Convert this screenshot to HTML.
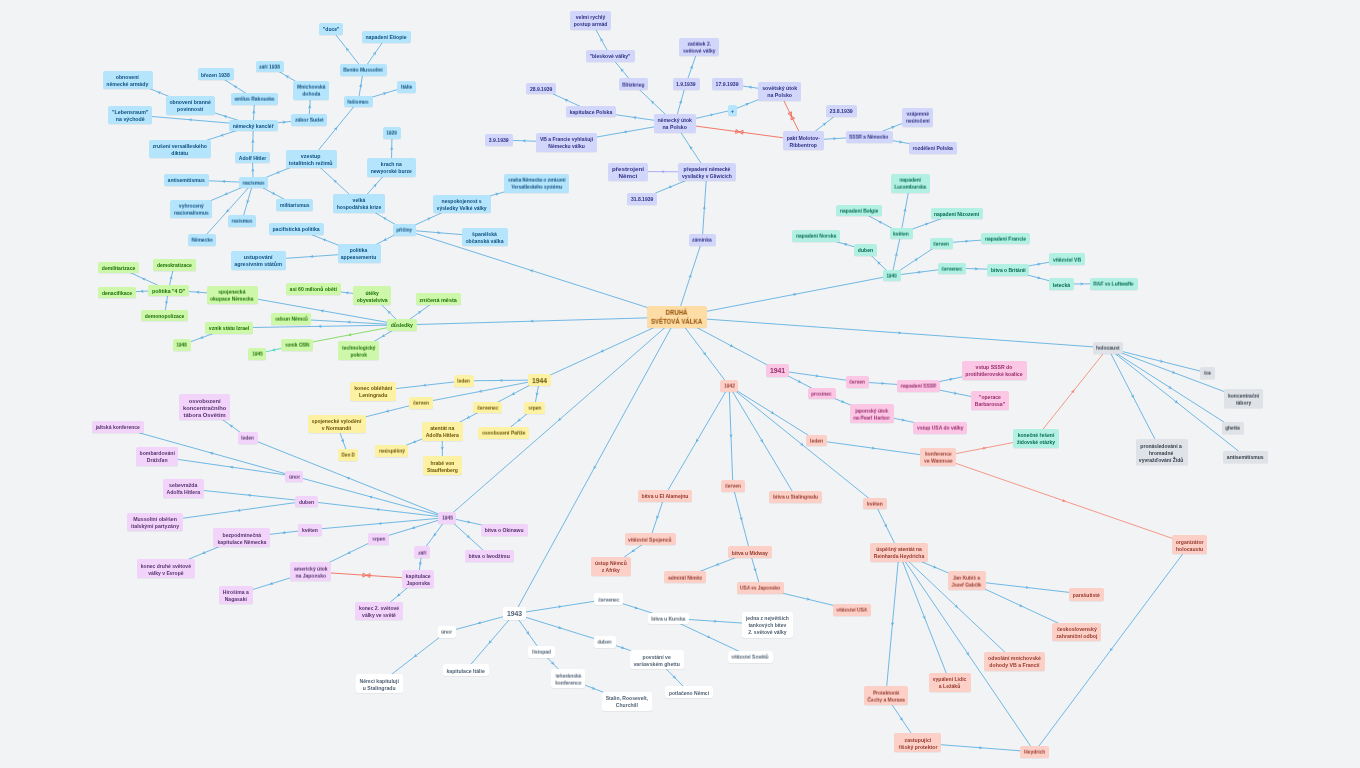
<!DOCTYPE html>
<html><head><meta charset="utf-8"><style>
html,body{margin:0;padding:0;width:1360px;height:768px;overflow:hidden;background:#f1f3f5}
svg{position:absolute;left:0;top:0}
.n{position:absolute;box-sizing:border-box;border-radius:2.2px;display:flex;align-items:center;justify-content:center;text-align:center;font-family:"Liberation Sans",sans-serif;font-weight:bold;font-size:5px;line-height:6.9px;white-space:nowrap;box-shadow:0 0.6px 0.6px rgba(60,70,90,0.12)}
.n span{display:block;will-change:transform}
.big{font-size:6.8px}
.c{font-size:6.5px;line-height:8.8px;border-radius:3px}
.c span{transform:translateY(0.8px) scaleX(0.93)}
.b{background:#b4e5fd;color:#104f7e}
.g{background:#cdf8a9;color:#1c7006}
.l{background:#d3d6fb;color:#2e3282}
.t{background:#b1f0e3;color:#056b50}
.k{background:#dfe2e6;color:#333d4a}
.p{background:#fcc6e5;color:#962e6b}
.s{background:#fdd0c7;color:#953a2e}
.w{background:#ffffff;color:#4f6173}
.y{background:#fdf1a3;color:#6b5608}
.u{background:#f2d4fb;color:#58336e}
.c{background:#fddca5;color:#945008}
</style></head><body>
<svg width="1360" height="768" viewBox="0 0 1360 768" stroke-width="0.9">
<line x1="677.00" y1="317.00" x2="404.50" y2="229.88" stroke="#62b1e1"/>
<polygon points="529.74,269.92 533.69,269.39 532.22,270.71 532.65,272.63" fill="#62b1e1"/>
<line x1="677.00" y1="317.00" x2="401.90" y2="324.95" stroke="#62b1e1"/>
<polygon points="530.05,321.25 533.60,319.44 532.65,321.17 533.70,322.84" fill="#62b1e1"/>
<line x1="677.00" y1="317.00" x2="702.25" y2="239.88" stroke="#62b1e1"/>
<polygon points="691.02,274.17 691.52,278.12 690.21,276.64 688.29,277.06" fill="#62b1e1"/>
<line x1="677.00" y1="317.00" x2="891.88" y2="275.62" stroke="#62b1e1"/>
<polygon points="796.82,293.93 793.60,296.28 794.26,294.42 792.96,292.94" fill="#62b1e1"/>
<line x1="677.00" y1="317.00" x2="1107.88" y2="347.88" stroke="#62b1e1"/>
<polygon points="901.60,333.09 897.88,334.53 899.00,332.91 898.13,331.14" fill="#62b1e1"/>
<line x1="677.00" y1="317.00" x2="777.38" y2="370.38" stroke="#62b1e1"/>
<polygon points="733.33,346.96 729.36,346.77 731.04,345.73 730.95,343.76" fill="#62b1e1"/>
<line x1="677.00" y1="317.00" x2="729.12" y2="385.88" stroke="#62b1e1"/>
<polygon points="706.07,355.42 702.54,353.57 704.50,353.34 705.26,351.52" fill="#62b1e1"/>
<line x1="677.00" y1="317.00" x2="514.38" y2="613.75" stroke="#62b1e1"/>
<polygon points="593.60,469.19 593.84,465.22 594.85,466.91 596.82,466.85" fill="#62b1e1"/>
<line x1="677.00" y1="317.00" x2="539.50" y2="380.00" stroke="#62b1e1"/>
<polygon points="600.36,352.11 602.93,349.07 602.73,351.03 604.34,352.16" fill="#62b1e1"/>
<line x1="677.00" y1="317.00" x2="447.35" y2="517.55" stroke="#62b1e1"/>
<polygon points="558.02,420.90 559.62,417.25 559.98,419.19 561.85,419.81" fill="#62b1e1"/>
<line x1="404.50" y1="229.88" x2="461.75" y2="203.50" stroke="#62b1e1"/>
<polygon points="430.83,217.74 428.27,220.79 428.47,218.83 426.85,217.71" fill="#62b1e1"/>
<line x1="404.50" y1="229.88" x2="484.75" y2="236.50" stroke="#62b1e1"/>
<polygon points="440.89,232.88 437.17,234.28 438.30,232.67 437.45,230.89" fill="#62b1e1"/>
<line x1="404.50" y1="229.88" x2="359.00" y2="253.25" stroke="#62b1e1"/>
<polygon points="383.34,240.74 385.77,237.59 385.66,239.56 387.32,240.61" fill="#62b1e1"/>
<line x1="404.50" y1="229.88" x2="359.00" y2="203.25" stroke="#62b1e1"/>
<polygon points="382.99,217.29 386.96,217.64 385.24,218.60 385.24,220.58" fill="#62b1e1"/>
<line x1="359.00" y1="203.25" x2="391.38" y2="167.25" stroke="#62b1e1"/>
<polygon points="376.46,183.84 375.31,187.65 374.72,185.77 372.79,185.38" fill="#62b1e1"/>
<line x1="359.00" y1="203.25" x2="311.12" y2="159.12" stroke="#62b1e1"/>
<polygon points="333.60,179.84 337.40,181.03 335.51,181.60 335.09,183.53" fill="#62b1e1"/>
<line x1="391.38" y1="167.25" x2="392.00" y2="132.88" stroke="#62b1e1"/>
<polygon points="391.75,146.48 393.39,150.11 391.71,149.07 389.99,150.04" fill="#62b1e1"/>
<line x1="311.12" y1="159.12" x2="253.12" y2="182.62" stroke="#62b1e1"/>
<polygon points="276.04,173.34 278.74,170.41 278.45,172.36 280.02,173.56" fill="#62b1e1"/>
<line x1="311.12" y1="159.12" x2="358.25" y2="101.25" stroke="#62b1e1"/>
<polygon points="337.26,127.03 336.31,130.89 335.62,129.04 333.67,128.74" fill="#62b1e1"/>
<line x1="358.25" y1="101.25" x2="363.38" y2="69.88" stroke="#62b1e1"/>
<polygon points="361.11,83.75 362.21,87.58 360.69,86.32 358.85,87.03" fill="#62b1e1"/>
<line x1="358.25" y1="101.25" x2="406.38" y2="86.88" stroke="#62b1e1"/>
<polygon points="386.57,92.79 383.61,95.45 384.08,93.53 382.63,92.19" fill="#62b1e1"/>
<line x1="363.38" y1="69.88" x2="331.00" y2="28.75" stroke="#62b1e1"/>
<polygon points="345.96,47.76 349.53,49.53 347.57,49.80 346.85,51.64" fill="#62b1e1"/>
<line x1="363.38" y1="69.88" x2="386.38" y2="36.75" stroke="#62b1e1"/>
<polygon points="376.00,51.69 375.35,55.62 374.52,53.82 372.55,53.68" fill="#62b1e1"/>
<line x1="253.12" y1="182.62" x2="252.50" y2="157.50" stroke="#62b1e1"/>
<polygon points="252.77,168.23 254.56,171.78 252.83,170.82 251.16,171.87" fill="#62b1e1"/>
<line x1="253.12" y1="182.62" x2="186.38" y2="179.88" stroke="#62b1e1"/>
<polygon points="221.73,181.33 225.39,179.78 224.32,181.44 225.25,183.18" fill="#62b1e1"/>
<line x1="253.12" y1="182.62" x2="191.00" y2="209.12" stroke="#62b1e1"/>
<polygon points="224.22,194.95 226.87,191.98 226.61,193.93 228.20,195.11" fill="#62b1e1"/>
<line x1="253.12" y1="182.62" x2="294.50" y2="204.75" stroke="#62b1e1"/>
<polygon points="275.37,194.52 271.39,194.32 273.08,193.29 273.00,191.32" fill="#62b1e1"/>
<line x1="253.12" y1="182.62" x2="242.00" y2="220.88" stroke="#62b1e1"/>
<polygon points="247.07,203.45 246.44,199.52 247.79,200.95 249.71,200.47" fill="#62b1e1"/>
<line x1="253.12" y1="182.62" x2="201.75" y2="239.75" stroke="#62b1e1"/>
<polygon points="226.22,212.54 227.37,208.72 227.96,210.60 229.89,211.00" fill="#62b1e1"/>
<line x1="252.50" y1="157.50" x2="253.25" y2="125.12" stroke="#62b1e1"/>
<polygon points="252.92,139.35 254.54,142.99 252.86,141.95 251.14,142.91" fill="#62b1e1"/>
<line x1="253.25" y1="125.12" x2="254.50" y2="98.75" stroke="#62b1e1"/>
<polygon points="253.96,110.10 255.49,113.78 253.84,112.70 252.09,113.62" fill="#62b1e1"/>
<line x1="253.25" y1="125.12" x2="190.50" y2="105.25" stroke="#62b1e1"/>
<polygon points="223.43,115.68 227.38,115.15 225.91,116.47 226.35,118.39" fill="#62b1e1"/>
<line x1="253.25" y1="125.12" x2="129.88" y2="114.62" stroke="#62b1e1"/>
<polygon points="188.48,119.61 192.21,118.22 191.07,119.83 191.92,121.61" fill="#62b1e1"/>
<line x1="253.25" y1="125.12" x2="179.75" y2="149.12" stroke="#62b1e1"/>
<polygon points="220.05,135.96 222.95,133.23 222.52,135.16 224.00,136.46" fill="#62b1e1"/>
<line x1="253.25" y1="125.12" x2="308.88" y2="119.75" stroke="#62b1e1"/>
<polygon points="286.14,121.95 282.72,123.99 283.55,122.20 282.39,120.60" fill="#62b1e1"/>
<line x1="254.50" y1="98.75" x2="215.62" y2="74.00" stroke="#62b1e1"/>
<polygon points="233.66,85.48 237.61,85.98 235.85,86.88 235.78,88.85" fill="#62b1e1"/>
<line x1="190.50" y1="105.25" x2="127.75" y2="79.62" stroke="#62b1e1"/>
<polygon points="157.21,91.66 161.19,91.44 159.62,92.64 159.90,94.59" fill="#62b1e1"/>
<line x1="308.88" y1="119.75" x2="310.88" y2="90.25" stroke="#62b1e1"/>
<polygon points="309.88,104.85 311.34,108.56 309.71,107.45 307.95,108.33" fill="#62b1e1"/>
<line x1="310.88" y1="90.25" x2="269.62" y2="66.12" stroke="#62b1e1"/>
<polygon points="285.51,75.42 289.48,75.77 287.76,76.73 287.76,78.70" fill="#62b1e1"/>
<line x1="359.00" y1="253.25" x2="296.38" y2="228.75" stroke="#62b1e1"/>
<polygon points="322.52,238.98 326.49,238.71 324.94,239.92 325.25,241.87" fill="#62b1e1"/>
<line x1="359.00" y1="253.25" x2="258.12" y2="260.25" stroke="#62b1e1"/>
<polygon points="309.73,256.67 313.20,254.72 312.32,256.49 313.44,258.12" fill="#62b1e1"/>
<line x1="461.75" y1="203.50" x2="536.38" y2="183.25" stroke="#62b1e1"/>
<polygon points="499.08,193.37 496.05,195.95 496.57,194.05 495.16,192.67" fill="#62b1e1"/>
<line x1="401.90" y1="324.95" x2="232.12" y2="294.62" stroke="#62b1e1"/>
<polygon points="320.38,310.39 324.22,309.35 322.94,310.85 323.62,312.70" fill="#62b1e1"/>
<line x1="401.90" y1="324.95" x2="372.35" y2="295.60" stroke="#62b1e1"/>
<polygon points="387.61,310.76 391.37,312.09 389.46,312.59 388.97,314.50" fill="#62b1e1"/>
<line x1="401.90" y1="324.95" x2="438.00" y2="299.00" stroke="#62b1e1"/>
<polygon points="421.32,310.99 419.39,314.47 419.21,312.51 417.40,311.71" fill="#62b1e1"/>
<line x1="401.90" y1="324.95" x2="291.10" y2="318.95" stroke="#62b1e1"/>
<polygon points="347.10,321.98 350.79,320.48 349.70,322.12 350.61,323.87" fill="#62b1e1"/>
<line x1="401.90" y1="324.95" x2="228.90" y2="327.90" stroke="#62b1e1"/>
<polygon points="318.00,326.38 321.57,324.62 320.60,326.34 321.63,328.02" fill="#62b1e1"/>
<line x1="401.90" y1="324.95" x2="296.90" y2="344.95" stroke="#7fd95a"/>
<polygon points="347.93,335.23 351.15,332.89 350.49,334.74 351.79,336.23" fill="#7fd95a"/>
<line x1="401.90" y1="324.95" x2="358.40" y2="350.70" stroke="#62b1e1"/>
<polygon points="381.60,336.97 383.83,333.67 383.84,335.64 385.56,336.60" fill="#62b1e1"/>
<line x1="372.35" y1="295.60" x2="313.38" y2="288.88" stroke="#62b1e1"/>
<polygon points="345.09,292.49 348.86,291.21 347.67,292.79 348.47,294.59" fill="#62b1e1"/>
<line x1="232.12" y1="294.62" x2="168.38" y2="290.12" stroke="#62b1e1"/>
<polygon points="195.85,292.06 199.57,290.62 198.45,292.25 199.33,294.01" fill="#62b1e1"/>
<line x1="168.38" y1="290.12" x2="118.50" y2="267.25" stroke="#62b1e1"/>
<polygon points="141.85,277.96 145.83,277.91 144.21,279.04 144.41,281.00" fill="#62b1e1"/>
<line x1="168.38" y1="290.12" x2="174.25" y2="264.75" stroke="#62b1e1"/>
<polygon points="171.73,275.65 172.57,279.54 171.14,278.18 169.26,278.77" fill="#62b1e1"/>
<line x1="168.38" y1="290.12" x2="116.88" y2="292.50" stroke="#62b1e1"/>
<polygon points="139.98,291.43 143.49,289.57 142.57,291.31 143.65,292.97" fill="#62b1e1"/>
<line x1="168.38" y1="290.12" x2="164.50" y2="315.38" stroke="#62b1e1"/>
<polygon points="166.17,304.50 165.03,300.69 166.56,301.93 168.39,301.20" fill="#62b1e1"/>
<line x1="228.90" y1="327.90" x2="182.00" y2="344.80" stroke="#62b1e1"/>
<polygon points="199.93,338.34 202.74,335.52 202.37,337.46 203.89,338.72" fill="#62b1e1"/>
<line x1="296.90" y1="344.95" x2="257.15" y2="353.75" stroke="#4fd6bf"/>
<polygon points="271.79,350.51 274.94,348.07 274.33,349.95 275.68,351.39" fill="#4fd6bf"/>
<line x1="702.25" y1="239.88" x2="706.75" y2="171.88" stroke="#62b1e1"/>
<polygon points="704.51,205.73 705.97,209.43 704.34,208.32 702.58,209.21" fill="#62b1e1"/>
<line x1="706.75" y1="171.88" x2="627.75" y2="171.50" stroke="#a3a8f0"/>
<polygon points="660.85,171.66 664.46,169.97 663.45,171.67 664.44,173.37" fill="#a3a8f0"/>
<line x1="706.75" y1="171.88" x2="641.75" y2="198.75" stroke="#62b1e1"/>
<polygon points="668.11,187.85 670.79,184.90 670.51,186.86 672.09,188.05" fill="#62b1e1"/>
<line x1="706.75" y1="171.88" x2="674.75" y2="123.25" stroke="#62b1e1"/>
<polygon points="689.66,145.91 693.06,147.99 691.09,148.08 690.22,149.85" fill="#62b1e1"/>
<line x1="674.75" y1="123.25" x2="633.50" y2="84.00" stroke="#62b1e1"/>
<polygon points="651.04,100.69 654.82,101.94 652.92,102.48 652.48,104.40" fill="#62b1e1"/>
<line x1="674.75" y1="123.25" x2="686.00" y2="83.75" stroke="#62b1e1"/>
<polygon points="681.39,99.92 682.04,103.85 680.68,102.42 678.77,102.92" fill="#62b1e1"/>
<line x1="674.75" y1="123.25" x2="732.38" y2="110.00" stroke="#62b1e1"/>
<polygon points="713.73,114.29 710.60,116.75 711.19,114.87 709.84,113.44" fill="#62b1e1"/>
<line x1="674.75" y1="123.25" x2="590.50" y2="111.12" stroke="#62b1e1"/>
<polygon points="632.74,117.20 636.55,116.03 635.32,117.58 636.07,119.40" fill="#62b1e1"/>
<line x1="674.75" y1="123.25" x2="566.38" y2="142.38" stroke="#62b1e1"/>
<polygon points="623.38,132.32 626.63,130.02 625.94,131.86 627.22,133.36" fill="#62b1e1"/>
<line x1="674.75" y1="123.25" x2="803.38" y2="140.50" stroke="#f46a56"/>
<polygon points="739.38,131.92 735.64,133.43 736.17,129.47" fill="none" stroke="#f46a56" stroke-width="0.9"/>
<polygon points="739.38,131.92 742.58,134.36 743.11,130.40" fill="none" stroke="#f46a56" stroke-width="0.9"/>
<line x1="633.50" y1="84.00" x2="610.25" y2="55.88" stroke="#62b1e1"/>
<polygon points="620.61,68.41 624.22,70.10 622.27,70.41 621.60,72.27" fill="#62b1e1"/>
<line x1="610.25" y1="55.88" x2="590.62" y2="20.00" stroke="#62b1e1"/>
<polygon points="600.52,38.08 603.74,40.43 601.76,40.36 600.75,42.06" fill="#62b1e1"/>
<line x1="686.00" y1="83.75" x2="698.88" y2="46.88" stroke="#62b1e1"/>
<polygon points="692.43,65.33 692.85,69.29 691.57,67.79 689.64,68.17" fill="#62b1e1"/>
<line x1="732.38" y1="110.00" x2="779.25" y2="91.38" stroke="#62b1e1"/>
<polygon points="749.14,103.34 746.42,106.25 746.72,104.30 745.17,103.09" fill="#62b1e1"/>
<line x1="779.25" y1="91.38" x2="727.25" y2="83.75" stroke="#62b1e1"/>
<polygon points="748.37,86.85 752.18,85.69 750.94,87.22 751.69,89.05" fill="#62b1e1"/>
<line x1="779.25" y1="91.38" x2="803.38" y2="140.50" stroke="#f46a56"/>
<polygon points="791.28,115.88 787.94,113.62 791.53,111.85" fill="none" stroke="#f46a56" stroke-width="0.9"/>
<polygon points="791.28,115.88 791.03,119.90 794.62,118.13" fill="none" stroke="#f46a56" stroke-width="0.9"/>
<line x1="590.50" y1="111.12" x2="541.00" y2="88.38" stroke="#62b1e1"/>
<polygon points="564.30,99.08 568.28,99.04 566.66,100.17 566.86,102.13" fill="#62b1e1"/>
<line x1="566.38" y1="142.38" x2="498.75" y2="139.88" stroke="#62b1e1"/>
<polygon points="522.35,140.75 526.01,139.18 524.95,140.84 525.89,142.58" fill="#62b1e1"/>
<line x1="803.38" y1="140.50" x2="841.38" y2="110.88" stroke="#62b1e1"/>
<polygon points="826.20,122.71 824.40,126.26 824.15,124.31 822.31,123.58" fill="#62b1e1"/>
<line x1="803.38" y1="140.50" x2="869.12" y2="136.50" stroke="#62b1e1"/>
<polygon points="836.65,138.48 833.16,140.39 834.05,138.63 832.95,137.00" fill="#62b1e1"/>
<line x1="869.12" y1="136.50" x2="917.50" y2="117.38" stroke="#62b1e1"/>
<polygon points="894.92,126.30 892.19,129.21 892.50,127.26 890.94,126.05" fill="#62b1e1"/>
<line x1="869.12" y1="136.50" x2="932.88" y2="147.75" stroke="#62b1e1"/>
<polygon points="902.62,142.41 898.78,143.46 900.06,141.96 899.37,140.11" fill="#62b1e1"/>
<line x1="891.88" y1="275.62" x2="865.38" y2="249.88" stroke="#62b1e1"/>
<polygon points="877.39,261.55 881.16,262.84 879.26,263.36 878.79,265.28" fill="#62b1e1"/>
<line x1="891.88" y1="275.62" x2="901.00" y2="233.12" stroke="#62b1e1"/>
<polygon points="896.84,252.52 897.74,256.39 896.29,255.06 894.42,255.68" fill="#62b1e1"/>
<line x1="891.88" y1="275.62" x2="941.00" y2="243.12" stroke="#62b1e1"/>
<polygon points="918.02,258.33 915.96,261.73 915.85,259.76 914.08,258.90" fill="#62b1e1"/>
<line x1="891.88" y1="275.62" x2="952.00" y2="268.12" stroke="#62b1e1"/>
<polygon points="921.26,271.96 917.90,274.09 918.68,272.28 917.48,270.72" fill="#62b1e1"/>
<line x1="865.38" y1="249.88" x2="815.75" y2="235.88" stroke="#62b1e1"/>
<polygon points="843.46,243.69 847.39,243.03 845.96,244.40 846.46,246.31" fill="#62b1e1"/>
<line x1="901.00" y1="233.12" x2="858.88" y2="210.62" stroke="#62b1e1"/>
<polygon points="878.26,220.98 882.24,221.18 880.55,222.20 880.64,224.18" fill="#62b1e1"/>
<line x1="901.00" y1="233.12" x2="910.00" y2="183.25" stroke="#62b1e1"/>
<polygon points="905.51,208.13 906.54,211.97 905.05,210.69 903.20,211.37" fill="#62b1e1"/>
<line x1="901.00" y1="233.12" x2="956.88" y2="213.12" stroke="#62b1e1"/>
<polygon points="928.62,223.24 925.80,226.05 926.17,224.12 924.66,222.85" fill="#62b1e1"/>
<line x1="941.00" y1="243.12" x2="1005.25" y2="238.38" stroke="#62b1e1"/>
<polygon points="968.64,241.08 965.18,243.04 966.05,241.27 964.93,239.65" fill="#62b1e1"/>
<line x1="952.00" y1="268.12" x2="1007.88" y2="269.75" stroke="#62b1e1"/>
<polygon points="978.27,268.89 974.63,270.48 975.68,268.81 974.73,267.09" fill="#62b1e1"/>
<line x1="1007.88" y1="269.75" x2="1066.75" y2="259.00" stroke="#62b1e1"/>
<polygon points="1040.87,263.73 1037.63,266.04 1038.31,264.19 1037.02,262.70" fill="#62b1e1"/>
<line x1="1007.88" y1="269.75" x2="1061.38" y2="284.00" stroke="#62b1e1"/>
<polygon points="1040.84,278.53 1036.92,279.25 1038.32,277.86 1037.79,275.96" fill="#62b1e1"/>
<line x1="1061.38" y1="284.00" x2="1113.75" y2="283.75" stroke="#62b1e1"/>
<polygon points="1083.77,283.89 1080.18,285.61 1081.18,283.91 1080.17,282.21" fill="#62b1e1"/>
<line x1="1107.88" y1="347.88" x2="1207.25" y2="372.88" stroke="#62b1e1"/>
<polygon points="1163.47,361.86 1159.56,362.63 1160.95,361.23 1160.39,359.33" fill="#62b1e1"/>
<line x1="1107.88" y1="347.88" x2="1243.38" y2="398.75" stroke="#62b1e1"/>
<polygon points="1175.53,373.28 1171.56,373.60 1173.09,372.36 1172.76,370.42" fill="#62b1e1"/>
<line x1="1107.88" y1="347.88" x2="1232.88" y2="427.75" stroke="#62b1e1"/>
<polygon points="1171.88,388.77 1167.93,388.27 1169.69,387.37 1169.76,385.40" fill="#62b1e1"/>
<line x1="1107.88" y1="347.88" x2="1161.50" y2="451.88" stroke="#62b1e1"/>
<polygon points="1133.82,398.19 1130.66,395.77 1132.63,395.88 1133.68,394.21" fill="#62b1e1"/>
<line x1="1107.88" y1="347.88" x2="1245.38" y2="456.50" stroke="#62b1e1"/>
<polygon points="1178.04,403.30 1174.16,402.41 1176.00,401.69 1176.27,399.74" fill="#62b1e1"/>
<line x1="1035.88" y1="438.12" x2="1107.88" y2="347.88" stroke="#f6806e" stroke-width="0.8"/>
<polygon points="1074.46,389.76 1073.54,393.64 1072.83,391.80 1070.88,391.52" fill="#f6806e"/>
<line x1="937.88" y1="457.12" x2="1035.88" y2="438.12" stroke="#f6806e" stroke-width="0.8"/>
<polygon points="986.24,447.75 983.03,450.10 983.69,448.24 982.38,446.76" fill="#f6806e"/>
<line x1="937.88" y1="457.12" x2="1189.85" y2="544.45" stroke="#f6806e" stroke-width="0.8"/>
<polygon points="1065.77,501.45 1061.81,501.88 1063.31,500.60 1062.93,498.66" fill="#f6806e"/>
<line x1="1189.85" y1="544.45" x2="1034.55" y2="751.90" stroke="#62b1e1"/>
<polygon points="1109.84,651.32 1110.64,647.42 1111.40,649.24 1113.36,649.46" fill="#62b1e1"/>
<line x1="777.38" y1="370.38" x2="857.25" y2="381.75" stroke="#62b1e1"/>
<polygon points="819.13,376.32 815.33,377.50 816.56,375.95 815.81,374.13" fill="#62b1e1"/>
<line x1="777.38" y1="370.38" x2="821.88" y2="393.38" stroke="#62b1e1"/>
<polygon points="801.32,382.75 797.34,382.61 799.01,381.56 798.90,379.59" fill="#62b1e1"/>
<line x1="857.25" y1="381.75" x2="918.50" y2="385.88" stroke="#62b1e1"/>
<polygon points="884.77,383.60 881.06,385.06 882.18,383.43 881.29,381.67" fill="#62b1e1"/>
<line x1="918.50" y1="385.88" x2="994.38" y2="370.25" stroke="#62b1e1"/>
<polygon points="952.86,378.80 949.68,381.19 950.31,379.32 948.99,377.86" fill="#62b1e1"/>
<line x1="918.50" y1="385.88" x2="989.88" y2="400.25" stroke="#62b1e1"/>
<polygon points="957.36,393.70 953.50,394.66 954.81,393.19 954.17,391.32" fill="#62b1e1"/>
<line x1="821.88" y1="393.38" x2="871.88" y2="413.62" stroke="#62b1e1"/>
<polygon points="844.64,402.59 840.66,402.82 842.23,401.62 841.94,399.67" fill="#62b1e1"/>
<line x1="871.88" y1="413.62" x2="939.88" y2="427.88" stroke="#62b1e1"/>
<polygon points="905.23,420.62 901.36,421.54 902.69,420.08 902.06,418.21" fill="#62b1e1"/>
<line x1="729.12" y1="385.88" x2="816.50" y2="440.38" stroke="#62b1e1"/>
<polygon points="774.28,414.04 770.32,413.58 772.07,412.66 772.12,410.69" fill="#62b1e1"/>
<line x1="729.12" y1="385.88" x2="732.88" y2="485.88" stroke="#62b1e1"/>
<polygon points="731.07,437.77 729.24,434.24 730.97,435.18 732.64,434.11" fill="#62b1e1"/>
<line x1="729.12" y1="385.88" x2="795.38" y2="496.50" stroke="#62b1e1"/>
<polygon points="763.19,442.76 759.88,440.54 761.85,440.52 762.80,438.79" fill="#62b1e1"/>
<line x1="729.12" y1="385.88" x2="874.88" y2="503.12" stroke="#62b1e1"/>
<polygon points="803.64,445.82 799.77,444.88 801.61,444.19 801.90,442.23" fill="#62b1e1"/>
<line x1="729.12" y1="385.88" x2="664.62" y2="495.88" stroke="#62b1e1"/>
<polygon points="695.91,442.51 696.27,438.55 697.23,440.27 699.20,440.27" fill="#62b1e1"/>
<line x1="816.50" y1="440.38" x2="937.88" y2="457.12" stroke="#62b1e1"/>
<polygon points="875.26,448.48 871.46,449.68 872.68,448.13 871.92,446.31" fill="#62b1e1"/>
<line x1="732.88" y1="485.88" x2="750.00" y2="552.12" stroke="#62b1e1"/>
<polygon points="741.91,520.84 739.37,517.78 741.26,518.32 742.66,516.93" fill="#62b1e1"/>
<line x1="750.00" y1="552.12" x2="684.88" y2="577.12" stroke="#62b1e1"/>
<polygon points="715.66,565.31 718.42,562.43 718.09,564.37 719.63,565.60" fill="#62b1e1"/>
<line x1="750.00" y1="552.12" x2="760.50" y2="587.88" stroke="#62b1e1"/>
<polygon points="755.79,571.82 753.14,568.85 755.05,569.33 756.40,567.89" fill="#62b1e1"/>
<line x1="760.50" y1="587.88" x2="851.62" y2="609.75" stroke="#62b1e1"/>
<polygon points="810.22,599.81 806.33,600.62 807.69,599.20 807.12,597.32" fill="#62b1e1"/>
<line x1="664.62" y1="495.88" x2="650.00" y2="539.12" stroke="#62b1e1"/>
<polygon points="656.70,519.30 656.25,515.35 657.54,516.84 659.47,516.43" fill="#62b1e1"/>
<line x1="650.00" y1="539.12" x2="610.88" y2="566.38" stroke="#62b1e1"/>
<polygon points="631.39,552.09 633.37,548.63 633.52,550.60 635.32,551.42" fill="#62b1e1"/>
<line x1="874.88" y1="503.12" x2="899.00" y2="552.38" stroke="#62b1e1"/>
<polygon points="886.85,527.58 883.74,525.10 885.71,525.25 886.80,523.60" fill="#62b1e1"/>
<line x1="899.00" y1="552.38" x2="966.88" y2="580.62" stroke="#62b1e1"/>
<polygon points="936.64,568.04 932.66,568.23 934.24,567.04 933.97,565.09" fill="#62b1e1"/>
<line x1="899.00" y1="552.38" x2="885.85" y2="695.55" stroke="#62b1e1"/>
<polygon points="892.25,625.92 890.88,622.18 892.48,623.33 894.27,622.49" fill="#62b1e1"/>
<line x1="899.00" y1="552.38" x2="949.88" y2="682.38" stroke="#62b1e1"/>
<polygon points="925.13,619.14 922.23,616.41 924.18,616.72 925.40,615.17" fill="#62b1e1"/>
<line x1="899.00" y1="552.38" x2="1014.38" y2="661.12" stroke="#62b1e1"/>
<polygon points="958.07,608.05 954.28,606.82 956.18,606.27 956.62,604.35" fill="#62b1e1"/>
<line x1="899.00" y1="552.38" x2="1034.55" y2="751.90" stroke="#62b1e1"/>
<polygon points="969.02,655.45 965.59,653.42 967.56,653.30 968.41,651.51" fill="#62b1e1"/>
<line x1="966.88" y1="580.62" x2="1086.50" y2="594.38" stroke="#62b1e1"/>
<polygon points="1029.26,587.80 1025.49,589.07 1026.68,587.50 1025.88,585.70" fill="#62b1e1"/>
<line x1="966.88" y1="580.62" x2="1076.38" y2="631.62" stroke="#62b1e1"/>
<polygon points="1022.86,606.70 1018.88,606.72 1020.51,605.60 1020.32,603.64" fill="#62b1e1"/>
<line x1="885.85" y1="695.55" x2="917.65" y2="742.95" stroke="#62b1e1"/>
<polygon points="902.71,720.68 899.29,718.64 901.26,718.52 902.11,716.74" fill="#62b1e1"/>
<line x1="917.65" y1="742.95" x2="1034.55" y2="751.90" stroke="#62b1e1"/>
<polygon points="982.49,747.91 978.78,749.33 979.90,747.72 979.03,745.94" fill="#62b1e1"/>
<line x1="514.38" y1="613.75" x2="446.62" y2="631.88" stroke="#62b1e1"/>
<polygon points="477.54,623.60 480.58,621.03 480.05,622.93 481.46,624.32" fill="#62b1e1"/>
<line x1="514.38" y1="613.75" x2="465.88" y2="670.12" stroke="#62b1e1"/>
<polygon points="488.62,643.69 489.68,639.85 490.31,641.72 492.25,642.07" fill="#62b1e1"/>
<line x1="514.38" y1="613.75" x2="541.38" y2="651.88" stroke="#62b1e1"/>
<polygon points="529.19,634.68 525.73,632.72 527.69,632.55 528.50,630.76" fill="#62b1e1"/>
<line x1="514.38" y1="613.75" x2="608.38" y2="599.12" stroke="#62b1e1"/>
<polygon points="561.88,606.36 558.58,608.59 559.31,606.76 558.06,605.23" fill="#62b1e1"/>
<line x1="514.38" y1="613.75" x2="604.88" y2="641.88" stroke="#62b1e1"/>
<polygon points="561.81,628.49 557.87,629.05 559.33,627.72 558.88,625.80" fill="#62b1e1"/>
<line x1="446.62" y1="631.88" x2="379.62" y2="683.50" stroke="#62b1e1"/>
<polygon points="413.81,657.16 415.62,653.62 415.87,655.57 417.70,656.31" fill="#62b1e1"/>
<line x1="541.38" y1="651.88" x2="567.88" y2="678.50" stroke="#62b1e1"/>
<polygon points="554.29,664.85 550.54,663.49 552.45,663.00 552.95,661.10" fill="#62b1e1"/>
<line x1="567.88" y1="678.50" x2="627.00" y2="701.40" stroke="#62b1e1"/>
<polygon points="595.39,689.16 591.42,689.44 592.96,688.22 592.64,686.27" fill="#62b1e1"/>
<line x1="608.38" y1="599.12" x2="668.12" y2="618.12" stroke="#62b1e1"/>
<polygon points="638.28,608.63 634.33,609.16 635.80,607.85 635.36,605.92" fill="#62b1e1"/>
<line x1="668.12" y1="618.12" x2="767.25" y2="624.75" stroke="#62b1e1"/>
<polygon points="717.27,621.41 713.57,622.87 714.68,621.24 713.79,619.47" fill="#62b1e1"/>
<line x1="668.12" y1="618.12" x2="750.38" y2="656.62" stroke="#62b1e1"/>
<polygon points="710.70,638.06 706.72,638.07 708.35,636.95 708.16,634.99" fill="#62b1e1"/>
<line x1="604.88" y1="641.88" x2="656.95" y2="659.45" stroke="#62b1e1"/>
<polygon points="624.55,648.52 620.60,648.97 622.09,647.68 621.68,645.75" fill="#62b1e1"/>
<line x1="656.95" y1="659.45" x2="688.90" y2="692.05" stroke="#62b1e1"/>
<polygon points="675.97,678.86 672.24,677.48 674.15,677.00 674.66,675.10" fill="#62b1e1"/>
<line x1="539.50" y1="380.00" x2="463.75" y2="380.88" stroke="#62b1e1"/>
<polygon points="499.10,380.47 502.68,378.73 501.70,380.44 502.72,382.12" fill="#62b1e1"/>
<line x1="539.50" y1="380.00" x2="420.88" y2="402.88" stroke="#62b1e1"/>
<polygon points="478.51,391.76 481.72,389.41 481.06,391.27 482.37,392.75" fill="#62b1e1"/>
<line x1="539.50" y1="380.00" x2="487.50" y2="407.62" stroke="#62b1e1"/>
<polygon points="511.49,394.88 513.87,391.69 513.79,393.66 515.47,394.69" fill="#62b1e1"/>
<line x1="539.50" y1="380.00" x2="534.38" y2="407.88" stroke="#62b1e1"/>
<polygon points="536.56,395.99 535.54,392.15 537.03,393.44 538.88,392.76" fill="#62b1e1"/>
<line x1="463.75" y1="380.88" x2="372.75" y2="391.25" stroke="#62b1e1"/>
<polygon points="422.74,385.55 426.12,383.45 425.32,385.26 426.51,386.83" fill="#62b1e1"/>
<line x1="420.88" y1="402.88" x2="336.88" y2="424.12" stroke="#62b1e1"/>
<polygon points="385.53,411.82 388.61,409.28 388.05,411.18 389.44,412.58" fill="#62b1e1"/>
<line x1="336.88" y1="424.12" x2="347.88" y2="454.75" stroke="#62b1e1"/>
<polygon points="343.58,442.79 340.76,439.97 342.70,440.34 343.96,438.83" fill="#62b1e1"/>
<line x1="487.50" y1="407.62" x2="442.12" y2="431.25" stroke="#62b1e1"/>
<polygon points="466.61,418.50 469.02,415.33 468.91,417.30 470.59,418.35" fill="#62b1e1"/>
<line x1="442.12" y1="431.25" x2="391.62" y2="450.88" stroke="#62b1e1"/>
<polygon points="412.48,442.77 415.22,439.88 414.90,441.83 416.45,443.05" fill="#62b1e1"/>
<line x1="442.12" y1="431.25" x2="442.50" y2="465.62" stroke="#62b1e1"/>
<polygon points="442.33,450.27 440.59,446.69 442.30,447.68 443.99,446.66" fill="#62b1e1"/>
<line x1="534.38" y1="407.88" x2="503.38" y2="432.88" stroke="#62b1e1"/>
<polygon points="517.40,421.57 519.13,417.98 519.42,419.94 521.27,420.63" fill="#62b1e1"/>
<line x1="447.35" y1="517.55" x2="248.00" y2="437.88" stroke="#62b1e1"/>
<polygon points="346.34,477.18 350.31,476.93 348.75,478.14 349.05,480.09" fill="#62b1e1"/>
<line x1="447.35" y1="517.55" x2="294.12" y2="476.12" stroke="#62b1e1"/>
<polygon points="368.89,496.34 372.81,495.64 371.40,497.02 371.92,498.92" fill="#62b1e1"/>
<line x1="447.35" y1="517.55" x2="306.25" y2="501.12" stroke="#62b1e1"/>
<polygon points="375.96,509.24 379.74,507.97 378.55,509.54 379.34,511.34" fill="#62b1e1"/>
<line x1="447.35" y1="517.55" x2="309.95" y2="529.75" stroke="#62b1e1"/>
<polygon points="378.06,523.70 381.49,521.69 380.65,523.47 381.79,525.08" fill="#62b1e1"/>
<line x1="447.35" y1="517.55" x2="378.40" y2="538.55" stroke="#62b1e1"/>
<polygon points="411.58,528.44 414.53,525.77 414.07,527.69 415.52,529.02" fill="#62b1e1"/>
<line x1="447.35" y1="517.55" x2="504.45" y2="529.85" stroke="#62b1e1"/>
<polygon points="470.76,522.59 466.88,523.50 468.22,522.04 467.60,520.17" fill="#62b1e1"/>
<line x1="447.35" y1="517.55" x2="489.40" y2="555.90" stroke="#62b1e1"/>
<polygon points="469.86,538.08 466.06,536.91 467.94,536.33 468.35,534.40" fill="#62b1e1"/>
<line x1="447.35" y1="517.55" x2="421.85" y2="552.10" stroke="#62b1e1"/>
<polygon points="433.42,536.43 434.19,532.52 434.96,534.34 436.92,534.54" fill="#62b1e1"/>
<line x1="248.00" y1="437.88" x2="204.62" y2="406.88" stroke="#62b1e1"/>
<polygon points="229.49,424.65 233.41,425.36 231.60,426.16 231.43,428.12" fill="#62b1e1"/>
<line x1="294.12" y1="476.12" x2="117.88" y2="426.88" stroke="#62b1e1"/>
<polygon points="209.67,452.53 213.60,451.86 212.18,453.23 212.68,455.13" fill="#62b1e1"/>
<line x1="294.12" y1="476.12" x2="156.88" y2="456.38" stroke="#62b1e1"/>
<polygon points="229.74,466.86 233.55,465.69 232.32,467.23 233.07,469.06" fill="#62b1e1"/>
<line x1="306.25" y1="501.12" x2="183.12" y2="488.38" stroke="#62b1e1"/>
<polygon points="247.49,495.04 251.24,493.72 250.07,495.31 250.89,497.10" fill="#62b1e1"/>
<line x1="306.25" y1="501.12" x2="154.75" y2="522.10" stroke="#62b1e1"/>
<polygon points="236.87,510.73 240.20,508.55 239.44,510.37 240.67,511.92" fill="#62b1e1"/>
<line x1="309.95" y1="529.75" x2="241.45" y2="537.60" stroke="#62b1e1"/>
<polygon points="282.01,532.95 285.40,530.85 284.60,532.66 285.78,534.23" fill="#62b1e1"/>
<line x1="241.45" y1="537.60" x2="165.85" y2="568.50" stroke="#62b1e1"/>
<polygon points="201.89,553.77 204.58,550.83 204.30,552.79 205.87,553.98" fill="#62b1e1"/>
<line x1="378.40" y1="538.55" x2="310.35" y2="571.60" stroke="#62b1e1"/>
<polygon points="347.14,553.73 349.64,550.63 349.48,552.60 351.12,553.69" fill="#62b1e1"/>
<line x1="310.35" y1="571.60" x2="236.10" y2="594.75" stroke="#62b1e1"/>
<polygon points="269.49,584.34 272.42,581.65 271.97,583.57 273.43,584.89" fill="#62b1e1"/>
<line x1="310.35" y1="571.60" x2="418.20" y2="578.75" stroke="#f46a56"/>
<polygon points="366.45,575.32 362.83,577.08 363.09,573.09" fill="none" stroke="#f46a56" stroke-width="0.9"/>
<polygon points="366.45,575.32 369.81,577.55 370.07,573.56" fill="none" stroke="#f46a56" stroke-width="0.9"/>
<line x1="421.85" y1="552.10" x2="418.20" y2="578.75" stroke="#62b1e1"/>
<polygon points="420.00,565.63 418.80,561.84 420.35,563.06 422.17,562.30" fill="#62b1e1"/>
<line x1="418.20" y1="578.75" x2="379.25" y2="611.40" stroke="#62b1e1"/>
<polygon points="397.12,596.42 398.79,592.81 399.11,594.75 400.97,595.41" fill="#62b1e1"/>
</svg>
<div class="n b" id="obnoveni_armady" style="left:103.00px;top:70.50px;width:49.50px;height:18.25px"><span style="transform:translateY(0.6px) scaleX(1.035)">obnovení<br>německé armády</span></div>
<div class="n b" id="brezen1938" style="left:197.50px;top:68.00px;width:36.25px;height:12.00px"><span style="transform:translateY(0.6px) scaleX(1.004)">březen 1938</span></div>
<div class="n b" id="zari1938" style="left:255.50px;top:60.50px;width:28.25px;height:11.25px"><span style="transform:translateY(0.6px) scaleX(0.982)">září 1938</span></div>
<div class="n b" id="mnichov" style="left:293.00px;top:81.00px;width:35.75px;height:18.50px"><span style="transform:translateY(0.6px) scaleX(0.987)">Mnichovská<br>dohoda</span></div>
<div class="n b" id="duce" style="left:319.00px;top:23.00px;width:24.00px;height:11.50px"><span style="transform:translateY(0.6px) scaleX(1.005)">"duce"</span></div>
<div class="n b" id="etiopie" style="left:362.00px;top:31.00px;width:48.75px;height:11.50px"><span style="transform:translateY(0.6px) scaleX(1.031)">napadení Etiopie</span></div>
<div class="n b" id="mussolini" style="left:340.00px;top:64.00px;width:46.75px;height:11.75px"><span style="transform:translateY(0.6px) scaleX(0.981)">Benito Mussolini</span></div>
<div class="n b" id="fasismus" style="left:344.00px;top:95.50px;width:28.50px;height:11.50px"><span style="transform:translateY(0.6px) scaleX(0.968)">fašismus</span></div>
<div class="n b" id="italie" style="left:397.00px;top:81.00px;width:18.75px;height:11.75px"><span style="transform:translateY(0.6px) scaleX(0.986)">Itálie</span></div>
<div class="n b" id="branna" style="left:166.00px;top:96.00px;width:49.00px;height:18.50px"><span style="transform:translateY(0.6px) scaleX(1.030)">obnovení branné<br>povinnosti</span></div>
<div class="n b" id="anslus" style="left:231.00px;top:93.00px;width:47.00px;height:11.50px"><span style="transform:translateY(0.6px) scaleX(0.967)">anšlus Rakouska</span></div>
<div class="n b" id="lebensraum" style="left:108.00px;top:105.50px;width:43.75px;height:18.25px"><span style="transform:translateY(0.6px) scaleX(1.051)">"Lebensraum"<br>na východě</span></div>
<div class="n b" id="kancler" style="left:229.00px;top:119.50px;width:48.50px;height:11.25px"><span style="transform:translateY(0.6px) scaleX(1.017)">německý kancléř</span></div>
<div class="n b" id="sudety" style="left:291.00px;top:114.00px;width:35.75px;height:11.50px"><span style="transform:translateY(0.6px) scaleX(0.987)">zábor Sudet</span></div>
<div class="n b" id="versailles" style="left:148.75px;top:140.00px;width:62.00px;height:18.25px"><span style="transform:translateY(0.6px) scaleX(1.021)">zrušení versailleského<br>diktátu</span></div>
<div class="n b" id="hitler" style="left:235.00px;top:151.75px;width:35.00px;height:11.50px"><span style="transform:translateY(0.6px) scaleX(1.020)">Adolf Hitler</span></div>
<div class="n b" id="vzestup" style="left:285.50px;top:150.00px;width:51.25px;height:18.25px"><span style="transform:translateY(0.6px) scaleX(1.057)">vzestup<br>totalitních režimů</span></div>
<div class="n b" id="r1929" style="left:383.00px;top:127.00px;width:18.00px;height:11.75px"><span style="transform:translateY(0.6px) scaleX(0.944)">1929</span></div>
<div class="n b" id="krach" style="left:367.00px;top:158.00px;width:48.75px;height:18.50px"><span style="transform:translateY(0.6px) scaleX(1.017)">krach na<br>newyorské burze</span></div>
<div class="n b" id="antisem" style="left:164.00px;top:174.00px;width:44.75px;height:11.75px"><span style="transform:translateY(0.6px) scaleX(1.023)">antisemitismus</span></div>
<div class="n b" id="nacismus" style="left:238.50px;top:177.00px;width:29.25px;height:11.25px"><span style="transform:translateY(0.6px) scaleX(0.942)">nacismus</span></div>
<div class="n b" id="nacionalismus" style="left:170.00px;top:200.00px;width:42.00px;height:18.25px"><span style="transform:translateY(0.6px) scaleX(0.993)">vyhrocený<br>nacionalismus</span></div>
<div class="n b" id="militarismus" style="left:276.00px;top:199.00px;width:37.00px;height:11.50px"><span style="transform:translateY(0.6px) scaleX(1.001)">militarismus</span></div>
<div class="n b" id="rasismus" style="left:228.00px;top:215.00px;width:28.00px;height:11.75px"><span style="transform:translateY(0.6px) scaleX(0.933)">rasismus</span></div>
<div class="n b" id="nemecko" style="left:187.50px;top:234.00px;width:28.50px;height:11.50px"><span style="transform:translateY(0.6px) scaleX(0.944)">Německo</span></div>
<div class="n b" id="krize" style="left:333.00px;top:194.00px;width:52.00px;height:18.50px"><span style="transform:translateY(0.6px) scaleX(1.014)">velká<br>hospodářská krize</span></div>
<div class="n b" id="priciny" style="left:393.00px;top:224.00px;width:23.00px;height:11.75px"><span style="transform:translateY(0.6px) scaleX(0.945)">příčiny</span></div>
<div class="n b" id="pacifist" style="left:269.00px;top:223.00px;width:54.75px;height:11.50px"><span style="transform:translateY(0.6px) scaleX(1.024)">pacifistická politika</span></div>
<div class="n b" id="appeasement" style="left:337.50px;top:244.00px;width:43.00px;height:18.50px"><span style="transform:translateY(0.6px) scaleX(1.014)">politika<br>appeasementu</span></div>
<div class="n b" id="ustupovani" style="left:230.50px;top:251.00px;width:55.25px;height:18.50px"><span style="transform:translateY(0.6px) scaleX(1.081)">ustupování<br>agresivním státům</span></div>
<div class="n b" id="nespokojenost" style="left:433.00px;top:194.50px;width:57.50px;height:18.00px"><span style="transform:translateY(0.6px) scaleX(1.016)">nespokojenost s<br>výsledky Velké války</span></div>
<div class="n b" id="snaha" style="left:504.00px;top:174.00px;width:64.75px;height:18.50px"><span style="transform:translateY(0.6px) scaleX(0.899)">snaha Německa o zvrácení<br>Versailleského systému</span></div>
<div class="n b" id="spanelsko" style="left:462.00px;top:227.50px;width:45.50px;height:18.00px"><span style="transform:translateY(0.6px) scaleX(1.028)">španělská<br>občanská válka</span></div>
<div class="n g" id="demilitarizace" style="left:98.00px;top:261.50px;width:41.00px;height:11.50px"><span style="transform:translateY(0.6px) scaleX(1.013)">demilitarizace</span></div>
<div class="n g" id="demokratizace" style="left:153.00px;top:259.00px;width:42.50px;height:11.50px"><span style="transform:translateY(0.6px) scaleX(1.007)">demokratizace</span></div>
<div class="n g" id="denacifikace" style="left:98.00px;top:286.75px;width:37.75px;height:11.50px"><span style="transform:translateY(0.6px) scaleX(1.007)">denacifikace</span></div>
<div class="n g" id="politika4D" style="left:148.00px;top:284.50px;width:40.75px;height:11.25px"><span style="transform:translateY(0.6px) scaleX(1.058)">politika "4 D"</span></div>
<div class="n g" id="decentralizace" style="left:141.00px;top:309.50px;width:47.00px;height:11.75px"><span style="transform:translateY(0.6px) scaleX(1.008)">demonopolizace</span></div>
<div class="n g" id="okupace" style="left:206.75px;top:285.50px;width:50.75px;height:18.25px"><span style="transform:translateY(0.6px) scaleX(0.991)">spojenecká<br>okupace Německa</span></div>
<div class="n g" id="obeti" style="left:286.00px;top:283.00px;width:54.75px;height:11.75px"><span style="transform:translateY(0.6px) scaleX(1.018)">asi 60 milionů obětí</span></div>
<div class="n g" id="utek" style="left:353.20px;top:286.20px;width:38.30px;height:18.80px"><span style="transform:translateY(0.6px) scaleX(1.017)">útěky<br>obyvatelstva</span></div>
<div class="n g" id="odsun" style="left:271.20px;top:313.30px;width:39.80px;height:11.30px"><span style="transform:translateY(0.6px) scaleX(0.977)">odsun Němců</span></div>
<div class="n g" id="izrael" style="left:205.00px;top:322.00px;width:47.80px;height:11.80px"><span style="transform:translateY(0.6px) scaleX(1.007)">vznik státu Izrael</span></div>
<div class="n g" id="dusledky" style="left:387.00px;top:319.20px;width:29.80px;height:11.50px"><span style="transform:translateY(0.6px) scaleX(1.028)">důsledky</span></div>
<div class="n g" id="osn" style="left:281.20px;top:339.20px;width:31.40px;height:11.50px"><span style="transform:translateY(0.6px) scaleX(0.966)">vznik OSN</span></div>
<div class="n g" id="nato" style="left:173.10px;top:339.00px;width:17.80px;height:11.60px"><span style="transform:translateY(0.6px) scaleX(0.926)">1948</span></div>
<div class="n g" id="g1945" style="left:248.20px;top:348.00px;width:17.90px;height:11.50px"><span style="transform:translateY(0.6px) scaleX(0.934)">1945</span></div>
<div class="n g" id="pokrok" style="left:338.00px;top:341.30px;width:40.80px;height:18.80px"><span style="transform:translateY(0.6px) scaleX(0.990)">technologický<br>pokrok</span></div>
<div class="n g" id="mesta" style="left:415.50px;top:293.00px;width:45.00px;height:12.00px"><span style="transform:translateY(0.6px) scaleX(1.097)">zničená města</span></div>
<div class="n l" id="zahajeni" style="left:570.00px;top:10.50px;width:41.25px;height:19.00px"><span style="transform:translateY(0.6px) scaleX(1.021)">velmi rychlý<br>postup armád</span></div>
<div class="n l" id="bleskova" style="left:586.00px;top:50.00px;width:48.50px;height:11.75px"><span style="transform:translateY(0.6px) scaleX(1.024)">"bleskové války"</span></div>
<div class="n l" id="blitzkrieg" style="left:618.75px;top:78.00px;width:29.50px;height:12.00px"><span style="transform:translateY(0.6px) scaleX(0.977)">Blitzkrieg</span></div>
<div class="n l" id="zacatek" style="left:679.00px;top:37.50px;width:39.75px;height:18.75px"><span style="transform:translateY(0.6px) scaleX(0.991)">začátek 2.<br>světové války</span></div>
<div class="n l" id="d0109" style="left:672.50px;top:78.00px;width:27.00px;height:11.50px"><span style="transform:translateY(0.6px) scaleX(1.002)">1.9.1939</span></div>
<div class="n l" id="d1709" style="left:712.00px;top:78.00px;width:30.50px;height:11.50px"><span style="transform:translateY(0.6px) scaleX(1.034)">17.9.1939</span></div>
<div class="n l" id="d2809" style="left:526.00px;top:82.50px;width:30.00px;height:11.75px"><span style="transform:translateY(0.6px) scaleX(1.011)">28.9.1939</span></div>
<div class="n l" id="kapitulace_pl" style="left:565.50px;top:105.50px;width:50.00px;height:11.25px"><span style="transform:translateY(0.6px) scaleX(1.013)">kapitulace Polska</span></div>
<div class="n l" id="utok_pl" style="left:653.75px;top:114.00px;width:42.00px;height:18.50px"><span style="transform:translateY(0.6px) scaleX(1.034)">německý útok<br>na Polsko</span></div>
<div class="n b" id="plus" style="left:728.00px;top:104.50px;width:8.75px;height:11.00px"><span style="transform:translateY(0.6px) scaleX(1.000)">+</span></div>
<div class="n l" id="d0309" style="left:485.00px;top:134.00px;width:27.50px;height:11.75px"><span style="transform:translateY(0.6px) scaleX(1.027)">3.9.1939</span></div>
<div class="n l" id="vb_francie" style="left:536.00px;top:133.00px;width:60.75px;height:18.75px"><span style="transform:translateY(0.6px) scaleX(1.003)">VB a Francie vyhlašují<br>Německu válku</span></div>
<div class="n l" id="obsazovani" style="left:608.00px;top:162.50px;width:39.50px;height:18.00px"><span style="transform:translateY(0.6px) scaleX(1.238)">přestrojení<br>Němci</span></div>
<div class="n l" id="pripojeni" style="left:678.00px;top:162.50px;width:57.50px;height:18.75px"><span style="transform:translateY(0.6px) scaleX(1.005)">přepadení německé<br>vysílačky v Gliwicích</span></div>
<div class="n l" id="d3009" style="left:626.75px;top:193.00px;width:30.00px;height:11.50px"><span style="transform:translateY(0.6px) scaleX(1.011)">31.8.1939</span></div>
<div class="n l" id="zaminka" style="left:688.75px;top:234.00px;width:27.00px;height:11.75px"><span style="transform:translateY(0.6px) scaleX(0.988)">záminka</span></div>
<div class="n l" id="sovetsky" style="left:758.00px;top:82.00px;width:42.50px;height:18.75px"><span style="transform:translateY(0.6px) scaleX(1.049)">sovětský útok<br>na Polsko</span></div>
<div class="n l" id="d2308" style="left:826.00px;top:105.00px;width:30.75px;height:11.75px"><span style="transform:translateY(0.6px) scaleX(1.045)">23.8.1939</span></div>
<div class="n l" id="pakt" style="left:783.00px;top:131.00px;width:40.75px;height:19.00px"><span style="transform:translateY(0.6px) scaleX(1.023)">pakt Molotov-<br>Ribbentrop</span></div>
<div class="n l" id="sssr_nem" style="left:845.75px;top:130.50px;width:46.75px;height:12.00px"><span style="transform:translateY(0.6px) scaleX(0.948)">SSSR a Německo</span></div>
<div class="n l" id="neutoceni" style="left:902.00px;top:108.00px;width:31.00px;height:18.75px"><span style="transform:translateY(0.6px) scaleX(0.995)">vzájemné<br>neútočení</span></div>
<div class="n l" id="rozdeleni" style="left:909.00px;top:141.75px;width:47.75px;height:12.00px"><span style="transform:translateY(0.6px) scaleX(1.020)">rozdělení Polska</span></div>
<div class="n c" id="center" style="left:647.10px;top:306.20px;width:59.80px;height:21.60px"><span>DRUHÁ<br>SVĚTOVÁ VÁLKA</span></div>
<div class="n t" id="lucembursko" style="left:890.50px;top:174.00px;width:39.00px;height:18.50px"><span style="transform:translateY(0.6px) scaleX(0.969)">napadení<br>Lucemburska</span></div>
<div class="n t" id="belgie" style="left:836.00px;top:205.00px;width:45.75px;height:11.25px"><span style="transform:translateY(0.6px) scaleX(0.998)">napadení Belgie</span></div>
<div class="n t" id="nizozemi" style="left:930.50px;top:207.50px;width:52.75px;height:11.25px"><span style="transform:translateY(0.6px) scaleX(1.005)">napadení Nizozemí</span></div>
<div class="n t" id="kveten40" style="left:889.50px;top:227.50px;width:23.00px;height:11.25px"><span style="transform:translateY(0.6px) scaleX(0.978)">květen</span></div>
<div class="n t" id="norsko" style="left:792.00px;top:230.00px;width:47.50px;height:11.75px"><span style="transform:translateY(0.6px) scaleX(0.993)">napadení Norska</span></div>
<div class="n t" id="duben40" style="left:854.00px;top:244.00px;width:22.75px;height:11.75px"><span style="transform:translateY(0.6px) scaleX(1.017)">duben</span></div>
<div class="n t" id="cerven40" style="left:929.50px;top:237.50px;width:23.00px;height:11.25px"><span style="transform:translateY(0.6px) scaleX(0.961)">červen</span></div>
<div class="n t" id="francie" style="left:981.00px;top:232.50px;width:48.50px;height:11.75px"><span style="transform:translateY(0.6px) scaleX(0.997)">napadení Francie</span></div>
<div class="n t" id="t1940" style="left:883.00px;top:270.00px;width:17.75px;height:11.25px"><span style="transform:translateY(0.6px) scaleX(0.921)">1940</span></div>
<div class="n t" id="cervenec40" style="left:938.00px;top:262.50px;width:28.00px;height:11.25px"><span style="transform:translateY(0.6px) scaleX(0.945)">červenec</span></div>
<div class="n t" id="britanie" style="left:986.75px;top:264.00px;width:42.25px;height:11.50px"><span style="transform:translateY(0.6px) scaleX(1.000)">bitva o Británii</span></div>
<div class="n t" id="vitezstvi_vb" style="left:1049.00px;top:253.00px;width:35.50px;height:12.00px"><span style="transform:translateY(0.6px) scaleX(0.997)">vítězství VB</span></div>
<div class="n t" id="letecka" style="left:1049.00px;top:278.00px;width:24.75px;height:12.00px"><span style="transform:translateY(0.6px) scaleX(1.017)">letecká</span></div>
<div class="n t" id="raf" style="left:1090.00px;top:278.00px;width:47.50px;height:11.50px"><span style="transform:translateY(0.6px) scaleX(0.979)">RAF vs Luftwaffe</span></div>
<div class="n t" id="konecne" style="left:1013.00px;top:428.75px;width:45.75px;height:18.75px"><span style="transform:translateY(0.6px) scaleX(1.005)">konečné řešení<br>židovské otázky</span></div>
<div class="n k" id="holocaust" style="left:1092.50px;top:342.00px;width:30.75px;height:11.75px"><span style="transform:translateY(0.6px) scaleX(0.984)">holocaust</span></div>
<div class="n k" id="lsa" style="left:1200.00px;top:367.00px;width:14.50px;height:11.75px"><span style="transform:translateY(0.6px) scaleX(0.812)">šoa</span></div>
<div class="n k" id="koncentracni" style="left:1224.25px;top:389.25px;width:38.25px;height:19.00px"><span style="transform:translateY(0.6px) scaleX(0.988)">koncentrační<br>tábory</span></div>
<div class="n k" id="ghetta" style="left:1222.00px;top:421.75px;width:21.75px;height:12.00px"><span style="transform:translateY(0.6px) scaleX(0.950)">ghetta</span></div>
<div class="n k" id="pronasledovani" style="left:1135.50px;top:439.25px;width:52.00px;height:25.25px"><span style="transform:translateY(0.6px) scaleX(1.007)">pronásledování a<br>hromadné<br>vyvražďování Židů</span></div>
<div class="n k" id="antisem2" style="left:1223.25px;top:450.50px;width:44.25px;height:12.00px"><span style="transform:translateY(0.6px) scaleX(1.009)">antisemitismus</span></div>
<div class="n p big" id="p1941" style="left:766.00px;top:364.00px;width:22.75px;height:12.75px"><span style="transform:translateY(1.1px) scaleX(1.008)">1941</span></div>
<div class="n p" id="cerven41" style="left:845.75px;top:376.00px;width:23.00px;height:11.50px"><span style="transform:translateY(0.6px) scaleX(0.961)">červen</span></div>
<div class="n p" id="napadeni_sssr" style="left:897.00px;top:380.00px;width:43.00px;height:11.75px"><span style="transform:translateY(0.6px) scaleX(0.961)">napadení SSSR</span></div>
<div class="n p" id="vstup_sssr" style="left:962.00px;top:361.00px;width:64.75px;height:18.50px"><span style="transform:translateY(0.6px) scaleX(1.025)">vstup SSSR do<br>protihitlerovské koalice</span></div>
<div class="n p" id="barbarossa" style="left:971.00px;top:391.00px;width:37.75px;height:18.50px"><span style="transform:translateY(0.6px) scaleX(1.012)">"operace<br>Barbarossa"</span></div>
<div class="n p" id="prosinec41" style="left:808.00px;top:387.50px;width:27.75px;height:11.75px"><span style="transform:translateY(0.6px) scaleX(0.972)">prosinec</span></div>
<div class="n p" id="pearl" style="left:850.00px;top:404.00px;width:43.75px;height:19.25px"><span style="transform:translateY(0.6px) scaleX(0.973)">japonský útok<br>na Pearl Harbor</span></div>
<div class="n p" id="vstup_usa" style="left:913.00px;top:422.00px;width:53.75px;height:11.75px"><span style="transform:translateY(0.6px) scaleX(0.995)">vstup USA do války</span></div>
<div class="n s" id="s1942" style="left:720.00px;top:380.00px;width:18.25px;height:11.75px"><span style="transform:translateY(0.6px) scaleX(0.966)">1942</span></div>
<div class="n s" id="leden42" style="left:806.25px;top:434.50px;width:20.50px;height:11.75px"><span style="transform:translateY(0.6px) scaleX(0.995)">leden</span></div>
<div class="n s" id="wannsee" style="left:920.00px;top:448.00px;width:35.75px;height:18.25px"><span style="transform:translateY(0.6px) scaleX(0.984)">konference<br>ve Wannsee</span></div>
<div class="n s" id="cerven42" style="left:721.25px;top:480.00px;width:23.25px;height:11.75px"><span style="transform:translateY(0.6px) scaleX(0.977)">červen</span></div>
<div class="n s" id="stalingrad" style="left:769.25px;top:490.50px;width:52.25px;height:12.00px"><span style="transform:translateY(0.6px) scaleX(0.994)">bitva u Stalingradu</span></div>
<div class="n s" id="kveten42" style="left:863.25px;top:497.50px;width:23.25px;height:11.25px"><span style="transform:translateY(0.6px) scaleX(0.994)">květen</span></div>
<div class="n s" id="alamejn" style="left:637.50px;top:490.00px;width:54.25px;height:11.75px"><span style="transform:translateY(0.6px) scaleX(1.018)">bitva u El Alamejnu</span></div>
<div class="n s" id="vitezstvi_spoj" style="left:624.50px;top:533.25px;width:51.00px;height:11.75px"><span style="transform:translateY(0.6px) scaleX(0.997)">vítězství Spojenců</span></div>
<div class="n s" id="midway" style="left:728.25px;top:546.25px;width:43.50px;height:11.75px"><span style="transform:translateY(0.6px) scaleX(1.012)">bitva u Midway</span></div>
<div class="n s" id="ustup" style="left:591.25px;top:557.00px;width:39.25px;height:18.75px"><span style="transform:translateY(0.6px) scaleX(1.002)">ústup Němců<br>z Afriky</span></div>
<div class="n s" id="zdrcujici" style="left:664.25px;top:571.25px;width:41.25px;height:11.75px"><span style="transform:translateY(0.6px) scaleX(0.987)">admirál Nimitz</span></div>
<div class="n s" id="usa_jap" style="left:736.75px;top:582.00px;width:47.50px;height:11.75px"><span style="transform:translateY(0.6px) scaleX(0.951)">USA vs Japonsko</span></div>
<div class="n s" id="vitezstvi_usa" style="left:832.50px;top:603.75px;width:38.25px;height:12.00px"><span style="transform:translateY(0.6px) scaleX(0.970)">vítězství USA</span></div>
<div class="n s" id="atentat" style="left:870.00px;top:543.00px;width:58.00px;height:18.75px"><span style="transform:translateY(0.6px) scaleX(1.009)">úspěšný atentát na<br>Reinharda Heydricha</span></div>
<div class="n s" id="kubis" style="left:948.25px;top:571.25px;width:37.25px;height:18.75px"><span style="transform:translateY(0.6px) scaleX(0.964)">Jan Kubiš a<br>Jozef Gabčík</span></div>
<div class="n s" id="parasutiste" style="left:1069.25px;top:588.25px;width:34.50px;height:12.25px"><span style="transform:translateY(0.6px) scaleX(1.012)">parašutisté</span></div>
<div class="n s" id="odboj" style="left:1052.00px;top:622.50px;width:48.75px;height:18.25px"><span style="transform:translateY(0.6px) scaleX(1.038)">československý<br>zahraniční odboj</span></div>
<div class="n s" id="odvolani" style="left:984.25px;top:651.75px;width:60.25px;height:18.75px"><span style="transform:translateY(0.6px) scaleX(1.037)">odvolání mnichovské<br>dohody VB a Francií</span></div>
<div class="n s" id="lidice" style="left:929.25px;top:673.00px;width:41.25px;height:18.75px"><span style="transform:translateY(0.6px) scaleX(1.020)">vypálení Lidic<br>a Ležáků</span></div>
<div class="n s" id="protektorat" style="left:863.50px;top:686.30px;width:44.70px;height:18.50px"><span style="transform:translateY(0.6px) scaleX(0.977)">Protektorát<br>Čechy a Morava</span></div>
<div class="n s" id="zastupujici" style="left:894.40px;top:733.40px;width:46.50px;height:19.10px"><span style="transform:translateY(0.6px) scaleX(1.032)">zastupující<br>říšský protektor</span></div>
<div class="n s" id="heydrich" style="left:1020.30px;top:746.00px;width:28.50px;height:11.80px"><span style="transform:translateY(0.6px) scaleX(0.981)">Heydrich</span></div>
<div class="n s" id="organizator" style="left:1172.20px;top:535.30px;width:35.30px;height:18.30px"><span style="transform:translateY(0.6px) scaleX(1.021)">organizátor<br>holocaustu</span></div>
<div class="n w big" id="w1943" style="left:503.00px;top:607.25px;width:22.75px;height:13.00px"><span style="transform:translateY(1.1px) scaleX(1.008)">1943</span></div>
<div class="n w" id="unor43" style="left:437.50px;top:626.00px;width:18.25px;height:11.75px"><span style="transform:translateY(0.6px) scaleX(0.968)">únor</span></div>
<div class="n w" id="nemci_kap" style="left:356.25px;top:674.25px;width:46.75px;height:18.50px"><span style="transform:translateY(0.6px) scaleX(1.024)">Němci kapitulují<br>u Stalingradu</span></div>
<div class="n w" id="kap_italie" style="left:443.00px;top:664.25px;width:45.75px;height:11.75px"><span style="transform:translateY(0.6px) scaleX(1.027)">kapitulace Itálie</span></div>
<div class="n w" id="listopad43" style="left:528.25px;top:646.00px;width:26.25px;height:11.75px"><span style="transform:translateY(0.6px) scaleX(0.978)">listopad</span></div>
<div class="n w" id="teheran" style="left:551.25px;top:669.25px;width:33.25px;height:18.50px"><span style="transform:translateY(0.6px) scaleX(0.965)">teheránská<br>konference</span></div>
<div class="n w" id="stalin" style="left:602.10px;top:692.00px;width:49.80px;height:18.80px"><span style="transform:translateY(0.6px) scaleX(1.015)">Stalin, Roosevelt,<br>Churchill</span></div>
<div class="n w" id="cervenec43" style="left:594.25px;top:593.25px;width:28.25px;height:11.75px"><span style="transform:translateY(0.6px) scaleX(0.957)">červenec</span></div>
<div class="n w" id="duben43" style="left:594.25px;top:636.25px;width:21.25px;height:11.25px"><span style="transform:translateY(0.6px) scaleX(0.917)">duben</span></div>
<div class="n w" id="ghetto" style="left:630.00px;top:650.20px;width:53.90px;height:18.50px"><span style="transform:translateY(0.6px) scaleX(1.024)">povstání ve<br>varšavském ghettu</span></div>
<div class="n w" id="potlaceno" style="left:665.10px;top:686.30px;width:47.60px;height:11.50px"><span style="transform:translateY(0.6px) scaleX(1.002)">potlačeno Němci</span></div>
<div class="n w" id="kursk" style="left:647.50px;top:612.50px;width:41.25px;height:11.25px"><span style="transform:translateY(0.6px) scaleX(0.979)">bitva u Kurska</span></div>
<div class="n w" id="tankova" style="left:742.00px;top:612.00px;width:50.50px;height:25.50px"><span style="transform:translateY(0.6px) scaleX(1.005)">jedna z největších<br>tankových bitev<br>2. světové války</span></div>
<div class="n w" id="vitezstvi_sov" style="left:728.25px;top:650.75px;width:44.25px;height:11.75px"><span style="transform:translateY(0.6px) scaleX(0.972)">vítězství Sovětů</span></div>
<div class="n y big" id="y1944" style="left:528.25px;top:373.75px;width:22.50px;height:12.50px"><span style="transform:translateY(1.1px) scaleX(0.992)">1944</span></div>
<div class="n y" id="leden44" style="left:453.75px;top:375.00px;width:20.00px;height:11.75px"><span style="transform:translateY(0.6px) scaleX(0.957)">leden</span></div>
<div class="n y" id="leningrad" style="left:350.00px;top:382.00px;width:45.50px;height:18.50px"><span style="transform:translateY(0.6px) scaleX(1.044)">konec obléhání<br>Leningradu</span></div>
<div class="n y" id="cerven44" style="left:409.25px;top:397.00px;width:23.25px;height:11.75px"><span style="transform:translateY(0.6px) scaleX(0.977)">červen</span></div>
<div class="n y" id="normandie" style="left:308.25px;top:415.00px;width:57.25px;height:18.25px"><span style="transform:translateY(0.6px) scaleX(1.017)">spojenecké vylodění<br>v Normandii</span></div>
<div class="n y" id="denD" style="left:337.50px;top:448.75px;width:20.75px;height:12.00px"><span style="transform:translateY(0.6px) scaleX(0.917)">Den D</span></div>
<div class="n y" id="cervenec44" style="left:473.25px;top:402.00px;width:28.50px;height:11.25px"><span style="transform:translateY(0.6px) scaleX(0.968)">červenec</span></div>
<div class="n y" id="srpen44" style="left:524.25px;top:402.00px;width:20.25px;height:11.75px"><span style="transform:translateY(0.6px) scaleX(0.936)">srpen</span></div>
<div class="n y" id="atentat_hitler" style="left:421.75px;top:422.00px;width:40.75px;height:18.50px"><span style="transform:translateY(0.6px) scaleX(1.023)">atentát na<br>Adolfa Hitlera</span></div>
<div class="n y" id="neuspesny" style="left:375.00px;top:445.00px;width:33.25px;height:11.75px"><span style="transform:translateY(0.6px) scaleX(0.986)">neúspěšný</span></div>
<div class="n y" id="stauffenberg" style="left:423.25px;top:456.25px;width:38.50px;height:18.75px"><span style="transform:translateY(0.6px) scaleX(1.005)">hrabě von<br>Stauffenberg</span></div>
<div class="n y" id="pariz" style="left:478.00px;top:427.00px;width:50.75px;height:11.75px"><span style="transform:translateY(0.6px) scaleX(0.991)">osvobození Paříže</span></div>
<div class="n u" id="p1945" style="left:438.20px;top:511.50px;width:18.30px;height:12.10px"><span style="transform:translateY(0.6px) scaleX(0.971)">1945</span></div>
<div class="n u" id="leden45" style="left:238.00px;top:432.00px;width:20.00px;height:11.75px"><span style="transform:translateY(0.6px) scaleX(0.957)">leden</span></div>
<div class="n u" id="osvetim" style="left:179.25px;top:394.25px;width:50.75px;height:25.25px"><span style="transform:translateY(0.6px) scaleX(1.162)">osvobození<br>koncentračního<br>tábora Osvětim</span></div>
<div class="n u" id="jalta" style="left:92.00px;top:421.25px;width:51.75px;height:11.25px"><span style="transform:translateY(0.6px) scaleX(1.014)">jaltská konference</span></div>
<div class="n u" id="drazdany" style="left:135.50px;top:447.00px;width:42.75px;height:18.75px"><span style="transform:translateY(0.6px) scaleX(1.023)">bombardování<br>Drážďan</span></div>
<div class="n u" id="unor45" style="left:285.00px;top:470.50px;width:18.25px;height:11.25px"><span style="transform:translateY(0.6px) scaleX(0.968)">únor</span></div>
<div class="n u" id="sebevrazda" style="left:162.50px;top:479.25px;width:41.25px;height:18.25px"><span style="transform:translateY(0.6px) scaleX(1.038)">sebevražda<br>Adolfa Hitlera</span></div>
<div class="n u" id="duben45" style="left:295.00px;top:495.50px;width:22.50px;height:11.25px"><span style="transform:translateY(0.6px) scaleX(1.000)">duben</span></div>
<div class="n u" id="mussolini45" style="left:127.00px;top:512.80px;width:55.50px;height:18.60px"><span style="transform:translateY(0.6px) scaleX(1.040)">Mussolini oběšen<br>italskými partyzány</span></div>
<div class="n u" id="kapitulace_nem" style="left:213.30px;top:528.30px;width:56.30px;height:18.60px"><span style="transform:translateY(0.6px) scaleX(1.021)">bezpodmínečná<br>kapitulace Německa</span></div>
<div class="n u" id="kveten45" style="left:298.20px;top:523.90px;width:23.50px;height:11.70px"><span style="transform:translateY(0.6px) scaleX(1.010)">květen</span></div>
<div class="n u" id="srpen45" style="left:368.20px;top:532.50px;width:20.40px;height:12.10px"><span style="transform:translateY(0.6px) scaleX(0.946)">srpen</span></div>
<div class="n u" id="okinawa" style="left:481.30px;top:524.00px;width:46.30px;height:11.70px"><span style="transform:translateY(0.6px) scaleX(1.012)">bitva o Okinawu</span></div>
<div class="n u" id="iwodzima" style="left:465.00px;top:550.00px;width:48.80px;height:11.80px"><span style="transform:translateY(0.6px) scaleX(1.025)">bitva o Iwodžimu</span></div>
<div class="n u" id="zari45" style="left:414.10px;top:546.20px;width:15.50px;height:11.80px"><span style="transform:translateY(0.6px) scaleX(0.928)">září</span></div>
<div class="n u" id="konec_evropa" style="left:137.00px;top:559.20px;width:57.70px;height:18.60px"><span style="transform:translateY(0.6px) scaleX(1.009)">konec druhé světové<br>války v Evropě</span></div>
<div class="n u" id="americky" style="left:289.80px;top:562.30px;width:41.10px;height:18.60px"><span style="transform:translateY(0.6px) scaleX(0.999)">americký útok<br>na Japonsko</span></div>
<div class="n u" id="kapitulace_jap" style="left:402.00px;top:569.50px;width:32.40px;height:18.50px"><span style="transform:translateY(0.6px) scaleX(1.017)">kapitulace<br>Japonska</span></div>
<div class="n u" id="hirosima" style="left:219.40px;top:585.50px;width:33.40px;height:18.50px"><span style="transform:translateY(0.6px) scaleX(1.012)">Hirošima a<br>Nagasaki</span></div>
<div class="n u" id="konec_svet" style="left:355.40px;top:602.40px;width:47.70px;height:18.00px"><span style="transform:translateY(0.6px) scaleX(1.004)">konec 2. světové<br>války ve světě</span></div>
</body></html>
